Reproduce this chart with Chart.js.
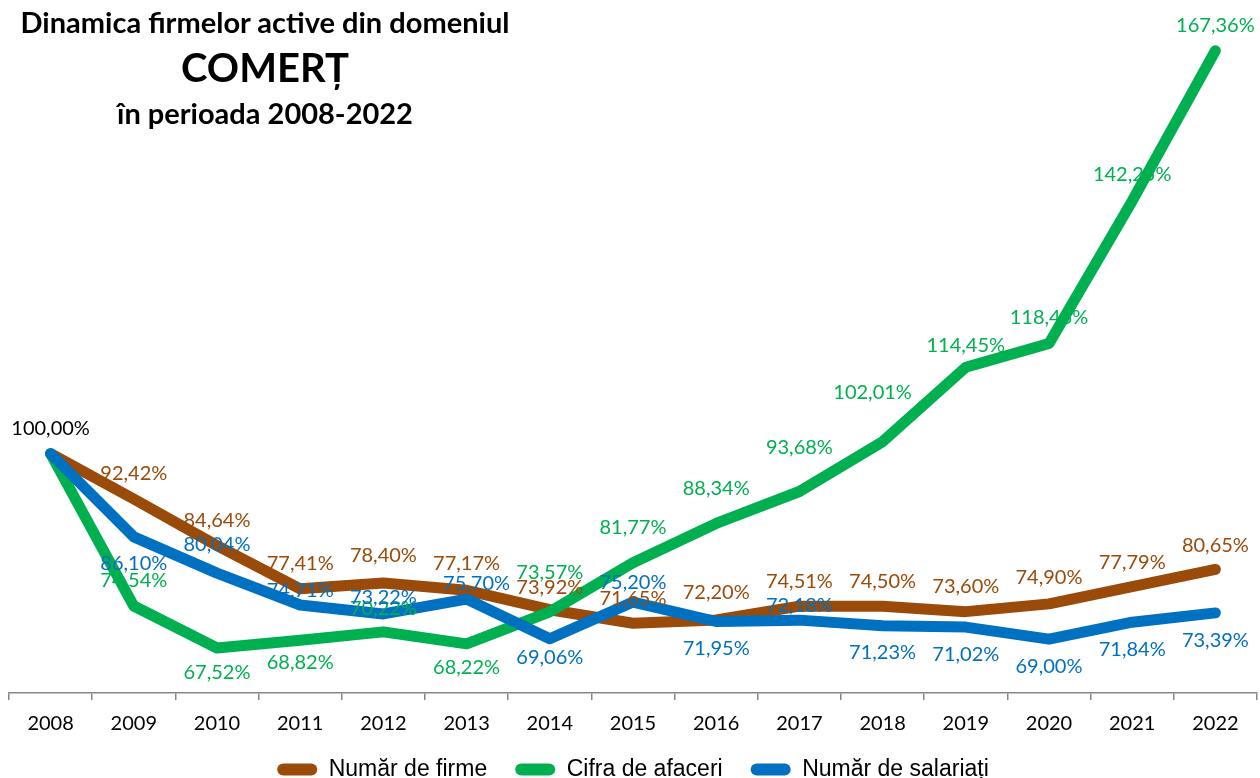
<!DOCTYPE html>
<html lang="ro">
<head>
<meta charset="utf-8">
<script src="https://cdn.jsdelivr.net/npm/chart.js@4.4.1/dist/chart.umd.min.js"></script>
<style>
    html, body { margin: 0; padding: 0; background: #fff; }
    #wrap { position: relative; width: 1260px; height: 778px; }
    .titlu {
        position: absolute; left: 0; width: 530px;
        text-align: center; font-family: Lato, "Open Sans", sans-serif;
        font-weight: bold; color: #000; line-height: 1; white-space: nowrap;
    }
    .l1 { top: 7px; font-size: 29px; }
    .l2 { top: 47px; font-size: 40px; }
    .l3 { top: 98px; font-size: 29px; }
</style>
</head>
<body>
<div id="wrap">
    <canvas id="grafic"></canvas>
    <div class="titlu l1">Dinamica firmelor active din domeniul</div>
    <div class="titlu l2">COMERȚ</div>
    <div class="titlu l3">în perioada 2008-2022</div>
</div>
<script>
const ani = ['2008', '2009', '2010', '2011', '2012', '2013', '2014', '2015',
    '2016', '2017', '2018', '2019', '2020', '2021', '2022'];

const numarFirme = [100.00, 92.42, 84.64, 77.41, 78.40, 77.17, 73.92, 71.65,
    72.20, 74.51, 74.50, 73.60, 74.90, 77.79, 80.65];

const cifraAfaceri = [100.00, 74.54, 67.52, 68.82, 70.22, 68.22, 73.57, 81.77,
    88.34, 93.68, 102.01, 114.45, 118.43, 142.25, 167.36];

const numarSalariati = [100.00, 86.10, 80.04, 74.71, 73.22, 75.70, 69.06, 75.20,
    71.95, 72.18, 71.23, 71.02, 69.00, 71.84, 73.39];

// unde stau etichetele fata de punct (dx, dy), null = fara eticheta
const pozFirme = [[0, -25], [0, -25], [0, -25], [0, -25], [0, -27], [0, -27], [0, -22], [0, -25],
    [0, -27], [0, -25], [0, -25], [0, -25], [0, -26], [0, -24], [0, -24]];
const pozCifra = [null, [0, -25], [0, 25], [0, 22], [0, -23], [0, 24], [0, -39], [0, -35],
    [0, -35], [0, -44], [-10, -49], [0, -22], [0, -26], [0, -26], [0, -25]];
const pozSalariati = [null, [0, 27], [0, -29], [0, -14], [0, -16], [10, -16], [0, 19], [0, -20],
    [0, 27], [0, -15], [0, 27], [0, 27], [0, 27], [0, 27], [0, 28]];

function formatProcent(v) {
    return v.toFixed(2).replace('.', ',') + '%';
}

const eticheteValori = {
    id: 'eticheteValori',
    afterDatasetsDraw: function (chart) {
        const ctx = chart.ctx;
        ctx.save();
        ctx.font = '20px Lato, "Open Sans", sans-serif';
        ctx.textAlign = 'center';
        ctx.textBaseline = 'middle';
        chart.data.datasets.forEach(function (ds, i) {
            const meta = chart.getDatasetMeta(i);
            meta.data.forEach(function (pt, j) {
                const poz = ds.pozitii[j];
                if (!poz) return;
                ctx.fillStyle = j === 0 ? '#000000' : ds.borderColor;
                ctx.fillText(formatProcent(ds.data[j]), pt.x + poz[0], pt.y + poz[1]);
            });
        });
        ctx.restore();
    }
};

const comun = {
    borderWidth: 11,
    borderCapStyle: 'round',
    borderJoinStyle: 'round',
    pointRadius: 0,
    pointHoverRadius: 0,
    tension: 0,
    fill: false
};

new Chart(document.getElementById('grafic').getContext('2d'), {
    type: 'line',
    data: {
        labels: ani,
        datasets: [
            Object.assign({
                label: 'Număr de firme',
                data: numarFirme,
                pozitii: pozFirme,
                borderColor: '#9A4A09',
                backgroundColor: '#9A4A09',
                order: 3
            }, comun),
            Object.assign({
                label: 'Cifra de afaceri',
                data: cifraAfaceri,
                pozitii: pozCifra,
                borderColor: '#00B050',
                backgroundColor: '#00B050',
                order: 2
            }, comun),
            Object.assign({
                label: 'Număr de salariați',
                data: numarSalariati,
                pozitii: pozSalariati,
                borderColor: '#0070C0',
                backgroundColor: '#0070C0',
                order: 1
            }, comun)
        ]
    },
    plugins: [eticheteValori],
    options: {
        responsive: true,
        maintainAspectRatio: false,
        animation: false,
        layout: {
            padding: { left: 9, right: 3, top: 5, bottom: -13 }
        },
        scales: {
            x: {
                offset: true,
                afterFit: function (scale) {
                    scale.height -= 18;
                },
                grid: {
                    offset: true,
                    drawOnChartArea: false,
                    drawTicks: true,
                    tickLength: 7,
                    color: '#868686',
                    lineWidth: 1.5
                },
                border: { color: '#868686', width: 1.5 },
                ticks: {
                    color: '#000000',
                    padding: 12,
                    font: { family: 'Lato, "Open Sans", sans-serif', size: 20 }
                }
            },
            y: {
                display: false,
                min: 60,
                max: 175
            }
        },
        plugins: {
            tooltip: { enabled: false },
            legend: {
                position: 'bottom',
                labels: {
                    boxWidth: 40,
                    boxHeight: 12,
                    useBorderRadius: true,
                    borderRadius: 6,
                    color: '#000000',
                    padding: 28,
                    sort: function (a, b) { return a.datasetIndex - b.datasetIndex; },
                    font: { family: '"Liberation Sans Narrow", "Liberation Sans", Arial, sans-serif', size: 23 },
                    generateLabels: function (chart) {
                        return chart.data.datasets.map(function (ds, i) {
                            return {
                                text: ds.label,
                                fillStyle: ds.borderColor,
                                strokeStyle: ds.borderColor,
                                lineWidth: 0,
                                fontColor: '#000000',
                                datasetIndex: i,
                                borderRadius: 6
                            };
                        });
                    }
                }
            }
        }
    }
});
</script>
</body>
</html>
